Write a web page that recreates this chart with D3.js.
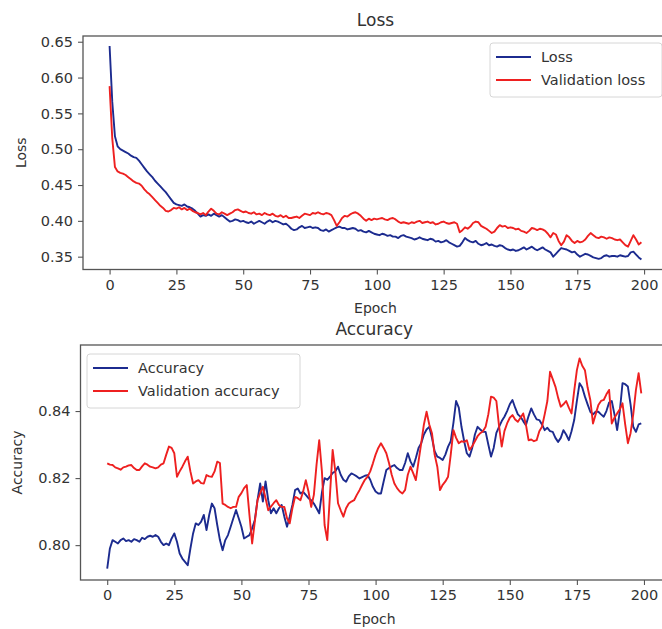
<!DOCTYPE html>
<html>
<head>
<meta charset="utf-8">
<script src="https://cdn.jsdelivr.net/npm/d3@7"></script>
<style>
  html, body { margin: 0; padding: 0; background: #fff; }
  svg { display: block; font-family: "DejaVu Sans", sans-serif; }
  .tick text { fill: #333; }
</style>
</head>
<body>
<svg id="chart" width="662" height="629"></svg>
<script>
// ---------- DATA ----------
const lossTitle = "Loss";
const accTitle = "Accuracy";
const xLabel = "Epoch";
const lossSeriesNames = ["Loss", "Validation loss"];
const accSeriesNames = ["Accuracy", "Validation accuracy"];
const epochTicks = [0, 25, 50, 75, 100, 125, 150, 175, 200];
const lossTicks = [0.35, 0.40, 0.45, 0.50, 0.55, 0.60, 0.65];
const accTicks = [0.80, 0.82, 0.84];

const loss = [
0.644,0.566,0.518,0.504,0.500,0.498,0.496,0.494,0.491,0.489,
0.488,0.484,0.479,0.474,0.469,0.465,0.461,0.456,0.452,0.448,
0.444,0.440,0.435,0.430,0.425,0.423,0.422,0.421,0.423,0.420,
0.419,0.417,0.414,0.410,0.406,0.408,0.407,0.409,0.407,0.410,
0.408,0.406,0.408,0.405,0.402,0.399,0.400,0.402,0.401,0.399,
0.400,0.398,0.397,0.399,0.396,0.398,0.400,0.398,0.396,0.399,
0.401,0.398,0.400,0.399,0.397,0.395,0.396,0.393,0.389,0.387,
0.388,0.391,0.393,0.390,0.391,0.392,0.390,0.391,0.390,0.387,
0.386,0.388,0.385,0.387,0.389,0.391,0.392,0.390,0.390,0.388,
0.389,0.390,0.389,0.386,0.387,0.385,0.384,0.386,0.384,0.382,
0.381,0.380,0.382,0.381,0.379,0.380,0.378,0.378,0.376,0.379,
0.380,0.378,0.377,0.376,0.374,0.375,0.377,0.375,0.374,0.373,
0.375,0.374,0.371,0.372,0.370,0.371,0.373,0.370,0.368,0.366,
0.364,0.365,0.370,0.376,0.373,0.371,0.370,0.372,0.368,0.366,
0.367,0.369,0.366,0.367,0.365,0.364,0.366,0.365,0.362,0.360,
0.359,0.360,0.358,0.359,0.361,0.363,0.360,0.362,0.364,0.361,
0.359,0.361,0.363,0.360,0.358,0.356,0.350,0.354,0.358,0.362,
0.361,0.360,0.358,0.356,0.357,0.353,0.350,0.352,0.354,0.353,
0.351,0.349,0.348,0.347,0.348,0.351,0.352,0.350,0.351,0.351,
0.350,0.352,0.351,0.350,0.351,0.356,0.357,0.353,0.349,0.346
];

const valLoss = [
0.588,0.515,0.475,0.469,0.467,0.466,0.464,0.461,0.458,0.455,
0.453,0.452,0.449,0.444,0.440,0.437,0.433,0.429,0.425,0.421,
0.418,0.414,0.413,0.415,0.418,0.417,0.419,0.416,0.418,0.415,
0.417,0.414,0.412,0.411,0.409,0.411,0.408,0.413,0.417,0.414,
0.410,0.409,0.412,0.410,0.408,0.410,0.412,0.415,0.416,0.414,
0.412,0.413,0.411,0.410,0.412,0.409,0.410,0.408,0.411,0.409,
0.408,0.410,0.407,0.406,0.408,0.405,0.407,0.404,0.404,0.405,
0.406,0.404,0.407,0.410,0.409,0.408,0.411,0.410,0.412,0.410,
0.409,0.411,0.410,0.408,0.401,0.393,0.398,0.404,0.407,0.406,
0.409,0.411,0.412,0.410,0.407,0.403,0.400,0.403,0.401,0.403,
0.402,0.403,0.404,0.402,0.401,0.403,0.404,0.402,0.399,0.397,
0.398,0.397,0.396,0.398,0.397,0.399,0.400,0.397,0.398,0.399,
0.397,0.398,0.395,0.396,0.398,0.399,0.397,0.396,0.397,0.398,
0.396,0.384,0.387,0.391,0.389,0.392,0.397,0.399,0.398,0.393,
0.391,0.389,0.386,0.383,0.385,0.390,0.394,0.392,0.393,0.390,
0.391,0.390,0.388,0.389,0.386,0.385,0.383,0.386,0.390,0.389,
0.387,0.389,0.388,0.386,0.382,0.377,0.383,0.381,0.372,0.366,
0.371,0.380,0.377,0.372,0.369,0.372,0.370,0.371,0.374,0.379,
0.383,0.380,0.377,0.376,0.378,0.377,0.375,0.377,0.376,0.374,
0.373,0.374,0.370,0.366,0.364,0.372,0.380,0.374,0.367,0.370
];

const accuracy = [
0.7930,0.7990,0.8015,0.8010,0.8005,0.8015,0.8020,0.8012,0.8015,0.8010,
0.8018,0.8015,0.8010,0.8022,0.8018,0.8025,0.8028,0.8025,0.8030,0.8025,
0.8010,0.8000,0.8005,0.8000,0.8020,0.8035,0.8010,0.7975,0.7960,0.7950,
0.7940,0.7990,0.8035,0.8065,0.8060,0.8070,0.8090,0.8045,0.8090,0.8124,
0.8110,0.8060,0.8015,0.7985,0.8015,0.8030,0.8055,0.8080,0.8105,0.8080,
0.8055,0.8020,0.8025,0.8030,0.8050,0.8075,0.8134,0.8184,0.8130,0.8190,
0.8134,0.8095,0.8110,0.8095,0.8110,0.8120,0.8085,0.8055,0.8085,0.8120,
0.8164,0.8169,0.8154,0.8159,0.8150,0.8140,0.8134,0.8124,0.8110,0.8095,
0.8157,0.8200,0.8195,0.8204,0.8215,0.8220,0.8234,0.8210,0.8195,0.8189,
0.8205,0.8214,0.8210,0.8205,0.8199,0.8203,0.8207,0.8209,0.8195,0.8174,
0.8160,0.8154,0.8154,0.8190,0.8224,0.8230,0.8235,0.8239,0.8230,0.8224,
0.8224,0.8245,0.8274,0.8250,0.8234,0.8260,0.8290,0.8304,0.8330,0.8345,
0.8353,0.8320,0.8280,0.8264,0.8260,0.8254,0.8270,0.8294,0.8310,0.8365,
0.8430,0.8410,0.8353,0.8310,0.8274,0.8264,0.8290,0.8330,0.8353,0.8345,
0.8338,0.8338,0.8300,0.8264,0.8290,0.8335,0.8353,0.8370,0.8383,0.8400,
0.8420,0.8433,0.8410,0.8390,0.8383,0.8370,0.8358,0.8385,0.8408,0.8390,
0.8375,0.8373,0.8360,0.8343,0.8350,0.8340,0.8338,0.8320,0.8308,0.8320,
0.8343,0.8330,0.8313,0.8340,0.8373,0.8430,0.8483,0.8470,0.8443,0.8420,
0.8398,0.8390,0.8398,0.8398,0.8390,0.8383,0.8400,0.8425,0.8430,0.8390,
0.8343,0.8400,0.8483,0.8480,0.8473,0.8420,0.8353,0.8338,0.8360,0.8363
];

const valAccuracy = [
0.8244,0.8240,0.8239,0.8232,0.8229,0.8225,0.8232,0.8234,0.8238,0.8239,
0.8230,0.8224,0.8224,0.8235,0.8244,0.8240,0.8234,0.8232,0.8229,0.8232,
0.8240,0.8244,0.8270,0.8294,0.8290,0.8274,0.8204,0.8220,0.8234,0.8250,
0.8264,0.8220,0.8184,0.8190,0.8194,0.8185,0.8184,0.8209,0.8205,0.8204,
0.8220,0.8249,0.8245,0.8124,0.8120,0.8114,0.8110,0.8114,0.8114,0.8144,
0.8155,0.8170,0.8179,0.8090,0.8005,0.8070,0.8134,0.8155,0.8174,0.8140,
0.8104,0.8115,0.8125,0.8134,0.8120,0.8114,0.8114,0.8080,0.8065,0.8110,
0.8144,0.8140,0.8134,0.8160,0.8194,0.8160,0.8114,0.8150,0.8240,0.8313,
0.8220,0.8060,0.8015,0.8150,0.8284,0.8220,0.8125,0.8104,0.8085,0.8110,
0.8124,0.8130,0.8134,0.8150,0.8164,0.8180,0.8195,0.8204,0.8220,0.8244,
0.8270,0.8290,0.8304,0.8290,0.8274,0.8245,0.8210,0.8184,0.8170,0.8160,
0.8154,0.8165,0.8210,0.8234,0.8215,0.8194,0.8250,0.8304,0.8360,0.8398,
0.8360,0.8334,0.8270,0.8234,0.8164,0.8180,0.8190,0.8204,0.8270,0.8343,
0.8320,0.8304,0.8310,0.8308,0.8313,0.8284,0.8295,0.8310,0.8325,0.8334,
0.8340,0.8353,0.8390,0.8443,0.8440,0.8430,0.8355,0.8294,0.8340,0.8363,
0.8380,0.8388,0.8375,0.8368,0.8380,0.8393,0.8360,0.8313,0.8315,0.8310,
0.8313,0.8340,0.8353,0.8390,0.8430,0.8517,0.8495,0.8473,0.8440,0.8413,
0.8420,0.8430,0.8410,0.8393,0.8460,0.8522,0.8557,0.8535,0.8522,0.8470,
0.8433,0.8363,0.8390,0.8418,0.8430,0.8433,0.8450,0.8463,0.8363,0.8380,
0.8393,0.8405,0.8423,0.8360,0.8304,0.8334,0.8390,0.8463,0.8513,0.8453
];

// ---------- DRAW ----------
const svg = d3.select("#chart");
const textColor = "#333";
const spineColor = "#555";
const blue = "#1c2b8f";
const red = "#ee2020";

function panel(cfg) {
  const { left, right, top, bottom, xDomain, yDomain, yTicks, series, names,
          title, titleY, yLabel, yLabelX, xLabelY, legend, id } = cfg;
  const x = d3.scaleLinear().domain(xDomain).range([left, right]);
  const y = d3.scaleLinear().domain(yDomain).range([bottom, top]);
  const g = svg.append("g");

  g.append("clipPath").attr("id", id).append("rect")
    .attr("x", left).attr("y", top).attr("width", right - left).attr("height", bottom - top);

  const line = d3.line().x((d, i) => x(i)).y(d => y(d));
  const colors = [blue, red];
  series.forEach((s, k) => {
    g.append("path").datum(s)
      .attr("clip-path", `url(#${id})`)
      .attr("fill", "none")
      .attr("stroke", colors[k])
      .attr("stroke-width", 1.9)
      .attr("stroke-linejoin", "round")
      .attr("d", line);
  });

  // spines
  g.append("rect").attr("x", left).attr("y", top)
    .attr("width", right - left).attr("height", bottom - top)
    .attr("fill", "none").attr("stroke", spineColor).attr("stroke-width", 1.3);

  const xAxis = g.append("g").attr("transform", `translate(0,${bottom})`)
    .call(d3.axisBottom(x).tickValues(epochTicks).tickFormat(d3.format("d")).tickSizeOuter(0).tickSize(5).tickPadding(5));
  const yAxis = g.append("g").attr("transform", `translate(${left},0)`)
    .call(d3.axisLeft(y).tickValues(yTicks).tickFormat(d3.format(".2f")).tickSizeOuter(0).tickSize(5).tickPadding(5));
  [xAxis, yAxis].forEach(a => {
    a.select(".domain").remove();
    a.selectAll(".tick line").attr("stroke", spineColor).attr("stroke-width", 1.1);
    a.selectAll(".tick text").attr("font-size", 14.5).attr("fill", textColor)
      .attr("font-family", "DejaVu Sans");
  });

  g.append("text").attr("x", (left + right) / 2).attr("y", titleY)
    .attr("text-anchor", "middle").attr("font-size", 17).attr("fill", textColor).text(title);
  g.append("text").attr("x", (left + right) / 2).attr("y", xLabelY)
    .attr("text-anchor", "middle").attr("font-size", 14).attr("fill", textColor).text(xLabel);
  g.append("text").attr("transform", `translate(${yLabelX},${(top + bottom) / 2}) rotate(-90)`)
    .attr("text-anchor", "middle").attr("font-size", 14).attr("fill", textColor).text(yLabel);

  // legend
  const lg = g.append("g");
  lg.append("rect").attr("x", legend.x).attr("y", legend.y)
    .attr("width", legend.w).attr("height", legend.h).attr("rx", 3)
    .attr("fill", "#fff").attr("fill-opacity", 0.8)
    .attr("stroke", "#d6d6d6").attr("stroke-width", 1);
  names.forEach((n, k) => {
    const yy = legend.y + 14 + k * 23;
    lg.append("line").attr("x1", legend.x + 6).attr("x2", legend.x + 41)
      .attr("y1", yy).attr("y2", yy).attr("stroke", colors[k]).attr("stroke-width", 1.9);
    lg.append("text").attr("x", legend.x + 51).attr("y", yy).attr("dy", "0.35em")
      .attr("font-size", 14.5).attr("fill", textColor).text(n);
  });
}

panel({
  id: "clipLoss", left: 83, right: 668, top: 36, bottom: 269.5,
  xDomain: [-9.95, 208.95], yDomain: [0.3321, 0.658], yTicks: lossTicks,
  series: [loss, valLoss], names: lossSeriesNames,
  title: lossTitle, titleY: 26, yLabel: "Loss", yLabelX: 26, xLabelY: 313,
  legend: { x: 490, y: 43, w: 172, h: 54 }
});

panel({
  id: "clipAcc", left: 80.5, right: 668, top: 345, bottom: 580,
  xDomain: [-9.95, 208.95], yDomain: [0.7896, 0.8597], yTicks: accTicks,
  series: [accuracy, valAccuracy], names: accSeriesNames,
  title: accTitle, titleY: 335, yLabel: "Accuracy", yLabelX: 22, xLabelY: 624,
  legend: { x: 87, y: 354, w: 213, h: 54 }
});
</script>
</body>
</html>
